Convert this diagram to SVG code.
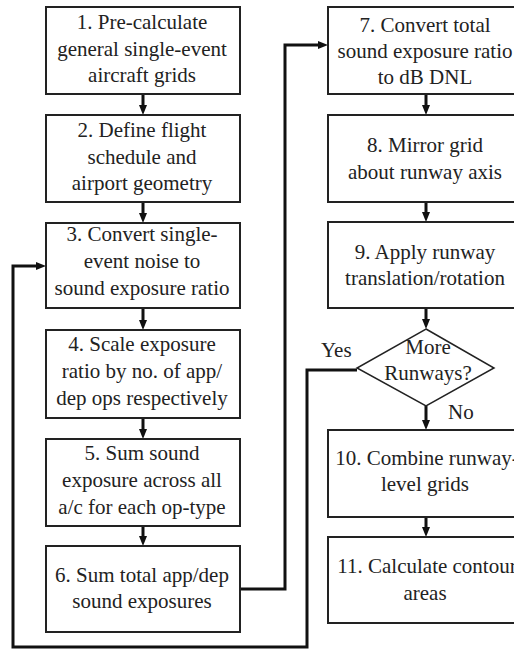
<svg xmlns="http://www.w3.org/2000/svg" width="514" height="649" viewBox="0 0 514 649" font-family="Liberation Serif, Times New Roman, serif">
<style>
.box{fill:#fff;stroke:#222;stroke-width:2}
.t{font-family:'Liberation Serif','Times New Roman',serif;font-size:21px;fill:#222;text-anchor:middle}
.lbl{font-family:'Liberation Serif','Times New Roman',serif;font-size:21px;fill:#222}
.c{fill:none;stroke:#111;stroke-width:3}
</style>
<defs>
<marker id="ah" viewBox="0 0 10 8" markerWidth="10" markerHeight="8" refX="2" refY="4" orient="auto" markerUnits="userSpaceOnUse">
<path d="M0,0 L10,4 L0,8 z" fill="#111"/>
</marker>
</defs>
<rect width="514" height="649" fill="#fff"/>
<g id="connectors">
<line class="c" x1="143" y1="94" x2="143" y2="107" marker-end="url(#ah)"/>
<line class="c" x1="143" y1="202" x2="143" y2="215" marker-end="url(#ah)"/>
<line class="c" x1="143" y1="308" x2="143" y2="322" marker-end="url(#ah)"/>
<line class="c" x1="143" y1="418" x2="143" y2="431" marker-end="url(#ah)"/>
<line class="c" x1="143" y1="526" x2="143" y2="538" marker-end="url(#ah)"/>
<polyline class="c" points="240,589 285,589 285,45 320,45" marker-end="url(#ah)"/>
<line class="c" x1="426" y1="94" x2="426" y2="107" marker-end="url(#ah)"/>
<line class="c" x1="426" y1="202" x2="426" y2="214" marker-end="url(#ah)"/>
<line class="c" x1="426" y1="308" x2="426" y2="321" marker-end="url(#ah)"/>
<line class="c" x1="426" y1="406" x2="426" y2="422" marker-end="url(#ah)"/>
<line class="c" x1="426" y1="517" x2="426" y2="529" marker-end="url(#ah)"/>
<polyline class="c" points="357,370 307,370 307,647 13,647 13,266 38,266" marker-end="url(#ah)"/>
<text class="lbl" x="321" y="357">Yes</text>
<text class="lbl" x="448" y="419">No</text>
</g>
<g id="n1"><rect class="box" x="46" y="7" width="194" height="87"/>
<text class="t" x="142" y="29">1. Pre-calculate</text><text class="t" x="142" y="55.5">general single-event</text><text class="t" x="142" y="82">aircraft grids</text></g>
<g id="n2"><rect class="box" x="46" y="115" width="194" height="87"/>
<text class="t" x="142" y="137">2. Define flight</text><text class="t" x="142" y="163.5">schedule and</text><text class="t" x="142" y="190">airport geometry</text></g>
<g id="n3"><rect class="box" x="46" y="223" width="194" height="85"/>
<text class="t" x="142" y="241">3. Convert single-</text><text class="t" x="142" y="268">event noise to</text><text class="t" x="142" y="295">sound exposure ratio</text></g>
<g id="n4"><rect class="box" x="46" y="330" width="194" height="88"/>
<text class="t" x="142" y="351">4. Scale exposure</text><text class="t" x="142" y="378">ratio by no. of app/</text><text class="t" x="142" y="405">dep ops respectively</text></g>
<g id="n5"><rect class="box" x="46" y="439" width="194" height="87"/>
<text class="t" x="142" y="460">5. Sum sound</text><text class="t" x="142" y="487">exposure across all</text><text class="t" x="142" y="514">a/c for each op-type</text></g>
<g id="n6"><rect class="box" x="46" y="546" width="194" height="86"/>
<text class="t" x="142" y="582">6. Sum total app/dep</text><text class="t" x="142" y="608">sound exposures</text></g>
<g id="n7"><rect class="box" x="328" y="7" width="194" height="87"/>
<text class="t" x="425" y="32">7. Convert total</text><text class="t" x="425" y="58">sound exposure ratio</text><text class="t" x="425" y="84">to dB DNL</text></g>
<g id="n8"><rect class="box" x="328" y="115" width="194" height="87"/>
<text class="t" x="425" y="152">8. Mirror grid</text><text class="t" x="425" y="179">about runway axis</text></g>
<g id="n9"><rect class="box" x="328" y="222" width="194" height="86"/>
<text class="t" x="425" y="259">9. Apply runway</text><text class="t" x="425" y="285">translation/rotation</text></g>
<g id="d1"><polygon class="box" points="426,329 494,368 426,406 357,368" style="stroke-width:1.5"/>
<text class="t" x="428" y="354">More</text><text class="t" x="428" y="380">Runways?</text></g>
<g id="n10"><rect class="box" x="328" y="430" width="194" height="87"/>
<text class="t" x="427" y="465">10. Combine runway-</text><text class="t" x="425" y="491">level grids</text></g>
<g id="n11"><rect class="box" x="328" y="537" width="194" height="86"/>
<text class="t" x="427" y="573">11. Calculate contour</text><text class="t" x="425" y="600">areas</text></g>
</svg>
